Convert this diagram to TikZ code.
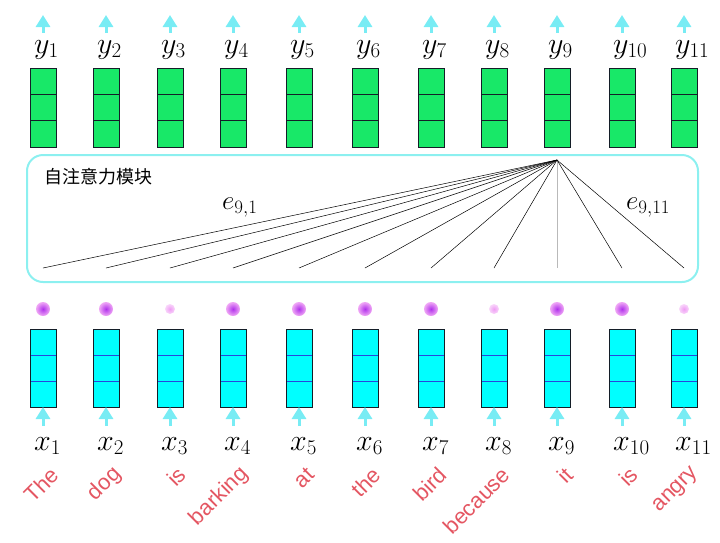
\documentclass[tikz,border=0pt]{standalone}
\usepackage{fix-cm}
\usepackage{amsmath}
\usepackage{fontspec}
\newfontfamily\cjk{Noto Sans CJK SC}
\newfontfamily\wordfont{Liberation Sans}
\usetikzlibrary{arrows.meta,positioning}
\definecolor{outgreen}{RGB}{24,232,104}
\definecolor{incyan}{RGB}{0,255,255}
\definecolor{sepblue}{RGB}{40,70,220}
\definecolor{edgedark}{RGB}{20,30,40}
\definecolor{arrowcyan}{RGB}{120,236,244}
\definecolor{boxcyan}{RGB}{140,240,240}
\definecolor{wordred}{RGB}{228,86,98}
\definecolor{dotpurple}{RGB}{176,50,236}
\definecolor{dotpink}{RGB}{236,140,242}
\tikzstyle{uparrow} = [draw=arrowcyan,line width=3pt,-{Triangle[width=14pt,length=12pt]}]

\begin{document}
\begin{tikzpicture}[x=1pt,y=-1pt,
    out node/.style={rectangle, draw=edgedark, fill=outgreen, minimum width=26pt, minimum height=79pt, inner sep=0pt, outer sep=0pt, line width=0.8pt,
        path picture={\draw[edgedark,line width=0.8pt] ([yshift=-26.33pt]path picture bounding box.north west) -- ([yshift=-26.33pt]path picture bounding box.north east)
            ([yshift=26.33pt]path picture bounding box.south west) -- ([yshift=26.33pt]path picture bounding box.south east);}},
    in node/.style={rectangle, draw=edgedark, fill=incyan, minimum width=26pt, minimum height=78pt, inner sep=0pt, outer sep=0pt, line width=0.8pt,
        path picture={\draw[sepblue,line width=0.8pt] ([yshift=-26pt]path picture bounding box.north west) -- ([yshift=-26pt]path picture bounding box.north east)
            ([yshift=26pt]path picture bounding box.south west) -- ([yshift=26pt]path picture bounding box.south east);}},
    vec label/.style={inner sep=0pt, anchor=base west, font=\fontsize{30}{36}\selectfont},
    word/.style={inner sep=0pt, anchor=east, rotate=45, text=wordred, font=\wordfont\fontsize{22}{26}\selectfont},
    big dot/.style={circle, minimum size=14pt, inner sep=0pt, inner color=dotpurple, outer color=dotpink!75},
    small dot/.style={circle, minimum size=10pt, inner sep=0pt, inner color=dotpink!85, outer color=dotpink!35},
    score/.style={draw=black, line width=0.5pt},
    attn box/.style={rectangle, draw=boxcyan, line width=2pt, rounded corners=16pt, minimum width=671pt, minimum height=127pt}]
    \useasboundingbox (0,0) rectangle (720,542);

    \node[attn box] (attn) at (362.5,218.5) {};
    \node[anchor=west, inner sep=0pt, font=\cjk\fontsize{18}{22}\selectfont] (title) at (44,177) {自注意力模块};
    \coordinate (apex) at (557,160);

    \foreach \i/\cx/\w/\d in {1/43/The/big,2/106/dog/big,3/170/is/small,4/233/barking/big,5/299/at/big,6/365/the/big,
        7/431/bird/big,8/494/because/small,9/557/it/big,10/622/is/big,11/684/angry/small}{
        \node[out node] (h\i) at (\cx,107.5) {};
        \node[in node] (v\i) at (\cx,368) {};
        \node[vec label] (y\i) at (\cx-9,53) {$y_{\i}$};
        \node[vec label] (x\i) at (\cx-9,450) {$x_{\i}$};
        \node[\d\space dot] (d\i) at (\cx,309) {};
        \node[word] (w\i) at (\cx+12,471) {\w};
        \coordinate (t\i) at (\cx,15);
        \coordinate (b\i) at (\cx,426);
        \coordinate (s\i) at (\cx,268);
        \draw[uparrow,shorten <=7pt] (y\i.north -| h\i) -- (t\i);
        \draw[uparrow] (b\i) -- (v\i.south);
        \ifnum\i=9
            \draw[score,draw=gray!55] (apex) -- (s\i);
        \else
            \draw[score] (apex) -- (s\i);
        \fi
    }

    \node[anchor=base west, inner sep=0pt, font=\fontsize{27}{32}\selectfont] (e1) at (222,209) {$e_{9,1}$};
    \node[anchor=base west, inner sep=0pt, font=\fontsize{27}{32}\selectfont] (e11) at (626,209) {$e_{9,11}$};
\end{tikzpicture}
\end{document}
